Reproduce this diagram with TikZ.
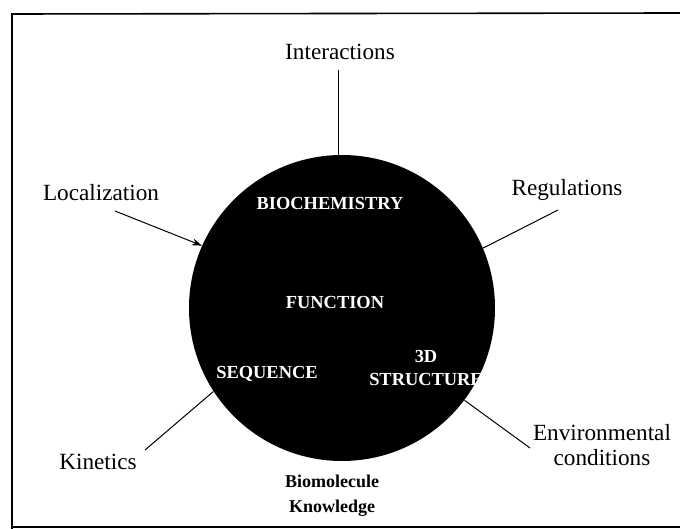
\documentclass[tikz,border=0pt]{standalone}
\usepackage{fontspec}
\setmainfont{Liberation Serif}
\usepackage{tikz}
\usetikzlibrary{positioning,arrows.meta}

\begin{document}
\begin{tikzpicture}[x=0.5pt,y=-0.5pt]
                        \tikzstyle{every node}=[inner sep=0]
                        \tikzstyle{outer}=[font=\fontsize{11.6}{12.5}\selectfont,align=center]
                        \tikzstyle{inner}=[text=white,font=\bfseries\fontsize{9.2}{11.5}\selectfont,align=center]
                        \tikzstyle{link}=[draw=black,line width=0.5pt]
                        \tikzstyle{frame}=[draw=black,line width=0.8pt]
                        {
                            \useasboundingbox (0,0) rectangle (680,529);
                            \draw[frame] (680,13) -- (12,14) -- (12,529);
                            \draw[frame] (12,527) -- (680,527);

                            \node[circle,fill=black,minimum size=153pt] (bio) at (342,308) {};
                            \node[inner] (biochem) at (330,203) {BIOCHEMISTRY};
                            \node[inner] (func) at (335,302) {FUNCTION};
                            \node[inner] (seq) at (267,374) {SEQUENCE};
                            \node[inner] (struct) at (426,368) {3D\\STRUCTURE};

                            \node[outer] (inter) at (340,52) {Interactions};
                            \node[outer] (loc) at (101,193) {Localization};
                            \node[outer] (reg) at (567,190) {Regulations};
                            \node[outer] (kin) at (98,462) {Kinetics};
                            \node[outer] (env) at (602,445) {Environmental\\conditions};
                            \node[outer,font=\bfseries\fontsize{9}{12.5}\selectfont] (know) at (332,496) {Biomolecule\\Knowledge};

                            \coordinate (interend) at (338,70);
                            \coordinate (locend) at (115,211);
                            \coordinate (regend) at (558,210);
                            \coordinate (kinend) at (145,450);
                            \coordinate (envend) at (530,448);

                            \draw[link] (interend) -- (interend |- bio.north);
                            \draw[link,-{Stealth[length=5pt,width=3.5pt]}] (locend) -- (bio.156.8);
                            \draw[link] (regend) -- (bio.23.5);
                            \draw[link] (kinend) -- (bio.213.4);
                            \draw[link] (envend) -- (bio.323.2);
                        }
\end{tikzpicture}
\end{document}
